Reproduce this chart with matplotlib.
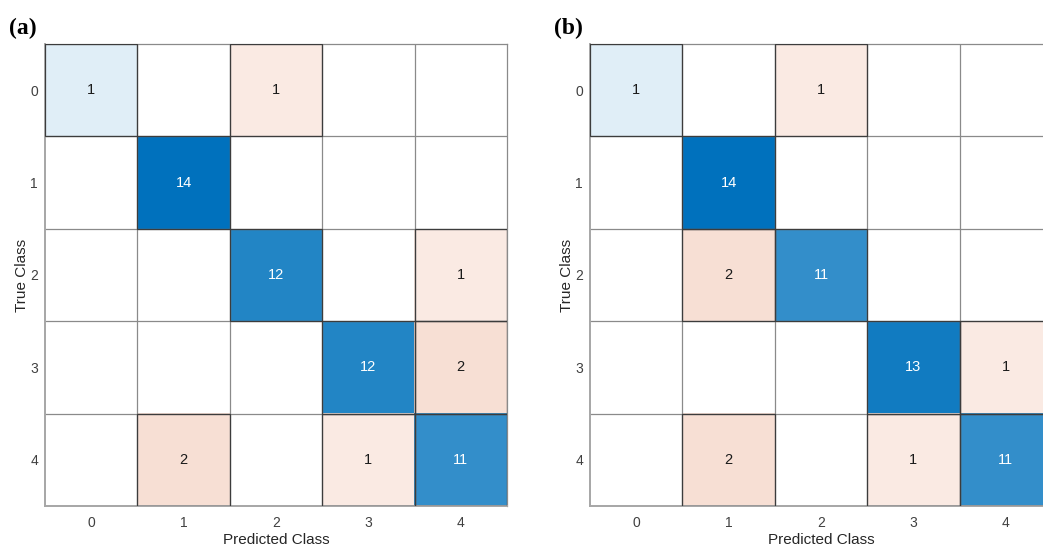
import numpy as np
import matplotlib
matplotlib.use('Agg')
import matplotlib.pyplot as plt
from matplotlib.patches import Rectangle

classes = ['0', '1', '2', '3', '4']

# confusion matrices, rows = true class, columns = predicted class
cm_a = np.array([[1, 0, 1, 0, 0],
                 [0, 14, 0, 0, 0],
                 [0, 0, 12, 0, 1],
                 [0, 0, 0, 12, 2],
                 [0, 2, 0, 1, 11]])

cm_b = np.array([[1, 0, 1, 0, 0],
                 [0, 14, 0, 0, 0],
                 [0, 2, 11, 0, 0],
                 [0, 0, 0, 13, 1],
                 [0, 2, 0, 1, 11]])

panel_labels = ['(a)', '(b)']

plt.rcParams['font.family'] = ['Liberation Sans', 'DejaVu Sans']

blue = np.array([0, 114, 189]) / 255.
red = np.array([217, 83, 25]) / 255.


def cell_colours(cm):
    vmax = cm.max()
    rgb = np.ones(cm.shape + (3,))
    for i in range(cm.shape[0]):
        for j in range(cm.shape[1]):
            v = cm[i, j]
            if v == 0:
                continue
            a = 0.05 + 0.95 * v / vmax
            base = blue if i == j else red
            rgb[i, j] = 1 - a * (1 - base)
    return rgb


def draw_cm(ax, cm):
    rgb = cell_colours(cm)
    n = cm.shape[0]
    ax.imshow(rgb, extent=(-0.5, n - 0.5, n - 0.5, -0.5), aspect='auto',
              interpolation='nearest')
    ax.set_xticks(np.arange(n - 1) + 0.5, minor=True)
    ax.set_yticks(np.arange(n - 1) + 0.5, minor=True)
    ax.grid(which='minor', color='#8a8a8a', linewidth=0.9)
    ax.tick_params(which='minor', length=0)
    for i in range(n):
        for j in range(n):
            v = cm[i, j]
            if v == 0:
                continue
            ax.add_patch(Rectangle((j - 0.5, i - 0.5), 1, 1, fill=False,
                                   edgecolor='#3c3c3c', linewidth=0.9, zorder=3))
            dark = (i == j) and v / cm.max() > 0.5
            ax.text(j, i, str(v), ha='center', va='center', fontsize=10.5,
                    color='white' if dark else '#1a1a1a', zorder=4)
    ax.set_xlim(-0.5, n - 0.5)
    ax.set_ylim(n - 0.5, -0.5)
    ax.set_xticks(range(n))
    ax.set_yticks(range(n))
    ax.set_xticklabels(classes)
    ax.set_yticklabels(classes)
    ax.tick_params(which='major', length=0, labelsize=10, colors='#404040')
    ax.tick_params(axis='x', pad=7)
    ax.tick_params(axis='y', pad=5)
    ax.set_xlabel('Predicted Class', fontsize=11, color='#262626', labelpad=2)
    ax.set_ylabel('True Class', fontsize=11, color='#262626', labelpad=1)
    for side in ['top', 'right']:
        ax.spines[side].set_color('#8a8a8a')
        ax.spines[side].set_linewidth(0.9)
    for side in ['left', 'bottom']:
        ax.spines[side].set_color('#a6a6a6')
        ax.spines[side].set_linewidth(1.4)


fig = plt.figure(figsize=(10.43, 5.48), dpi=100)
W, H = 1043, 548
ax_a = fig.add_axes([45 / W, (H - 506) / H, 462 / W, 462 / H])
ax_b = fig.add_axes([590 / W, (H - 506) / H, 462 / W, 462 / H])

draw_cm(ax_a, cm_a)
draw_cm(ax_b, cm_b)

fig.text(9 / W, 1 - 34 / H, panel_labels[0], fontsize=17, fontweight='bold',
         family=['Liberation Serif', 'DejaVu Serif'], va='baseline')
fig.text(554 / W, 1 - 34 / H, panel_labels[1], fontsize=17, fontweight='bold',
         family=['Liberation Serif', 'DejaVu Serif'], va='baseline')

fig.savefig('out.png', dpi=100)
